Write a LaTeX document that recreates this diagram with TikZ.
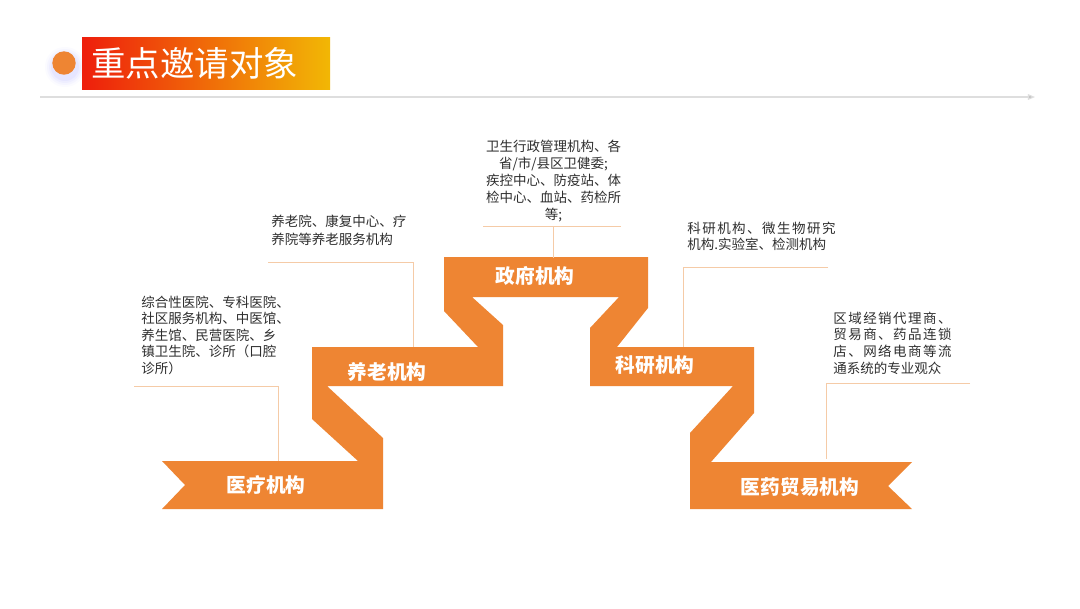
\documentclass[tikz,border=0pt]{standalone}
\usepackage{fontspec}
\setmainfont{Noto Sans CJK SC}
\usetikzlibrary{arrows.meta}
\definecolor{ribbon}{HTML}{EE8533}
\definecolor{leader}{HTML}{F5CBA7}
\definecolor{bodytext}{HTML}{2E2E2E}
\definecolor{titlered}{HTML}{EE1E0C}
\definecolor{titleyellow}{HTML}{F2B705}
\definecolor{rulegray}{HTML}{DEDEDE}

\begin{document}
\begin{tikzpicture}[x=0.025cm, y=-0.025cm,
    lbl/.style={text=white, font=\fontsize{14}{16}\selectfont\bfseries, inner sep=0},
    desc/.style={text=bodytext, font=\fontsize{9.6}{12.1}\selectfont, inner sep=0, align=left, anchor=north west},
    lead/.style={draw=leader, line width=0.7pt}]
      \useasboundingbox (0,0) rectangle (1080,608);
      \fill[white] (0,0) rectangle (1080,608);
      \foreach \r/\op in {20/0.05, 18/0.07, 16/0.09, 14/0.12} { \fill[blue!30, opacity=\op] (65,67) circle (\r); }
      \fill[ribbon] (64,63) circle (11.7);
      \shade[left color=titlered, right color=titleyellow] (82,37) rectangle (330,89);
      \node[anchor=west, text=white, font=\fontsize{24.5}{28}\selectfont, inner sep=0] (title) at (91,63) {重点邀请对象};
      \draw[rulegray, line width=0.8pt, -{Triangle[length=5pt, width=4pt, fill=gray!50]}] (40,97) -- (1035,97);
      \fill[ribbon] (162,509) -- (185,485) -- (162,461) -- (358,461) -- (312,419) -- (312,347) -- (478,347)
        -- (444,311) -- (444,257) -- (648,257) -- (648,308) -- (617,347) -- (754,347) -- (754,413)
        -- (711,462) -- (912,462) -- (888,486) -- (912,509) -- (690,509) -- (690,433) -- (733,386)
        -- (590,386) -- (590,328) -- (619,297) -- (472,297) -- (503,325) -- (503,386) -- (327,386)
        -- (383,438) -- (383,509) -- cycle;
      \foreach \nm/\x/\y/\t in {yiliao/266/485/医疗机构, yanglao/387/372/养老机构, zhengfu/535/276/政府机构,
        keyan/655/365/科研机构, maoyi/800/487/医药贸易机构} {
        \node[lbl] (\nm) at (\x,\y) {\t};
      }
      \node[desc, font=\fontsize{9.6}{11.7}\selectfont] (yiliao-txt) at (141,295.5) {综合性医院、专科医院、\\社区服务机构、中医馆、\\养生馆、民营医院、乡\\镇卫生院、诊所（口腔\\诊所）};
      \node[desc, font=\fontsize{9.6}{12.8}\selectfont] (yanglao-txt) at (271,215) {养老院、康复中心、疗\\养院等养老服务机构};
      \node[desc, align=center, anchor=north] (zhengfu-txt) at (553.5,140) {卫生行政管理机构、各\\省/市/县区卫健委;\\疾控中心、防疫站、体\\检中心、血站、药检所\\等;};
      \node[desc, font=\fontsize{9.6}{11.9}\selectfont] (keyan-txt) at (687,221.5) {{\addfontfeature{LetterSpace=11}科研机构、微生物研究}\\机构.实验室、检测机构};
      \node[desc, font=\fontsize{9.6}{11.9}\selectfont] (maoyi-txt) at (833,311.5) {{\addfontfeature{LetterSpace=11}区域经销代理商、}\\{\addfontfeature{LetterSpace=11}贸易商、药品连锁}\\{\addfontfeature{LetterSpace=11}店、网络电商等流}\\通系统的专业观众};
      \foreach \nm/\ax/\ay/\bx/\by in {yiliao/134/386/278/461, yanglao/268/262/413/347, keyan/828/267/683/347, maoyi/970/383/826/459} {
        \coordinate (\nm-a) at (\ax,\ay);
        \coordinate (\nm-b) at (\bx,\by);
        \draw[lead] (\nm-a) -| (\nm-b);
      }
      \coordinate (zhengfu-l) at (483,226);
      \coordinate (zhengfu-r) at (621,226);
      \coordinate (zhengfu-b) at (553,258);
      \draw[lead] (zhengfu-l) -- (zhengfu-r);
      \draw[lead] (zhengfu-b) -- (zhengfu-b |- zhengfu-l);
\end{tikzpicture}
\end{document}
